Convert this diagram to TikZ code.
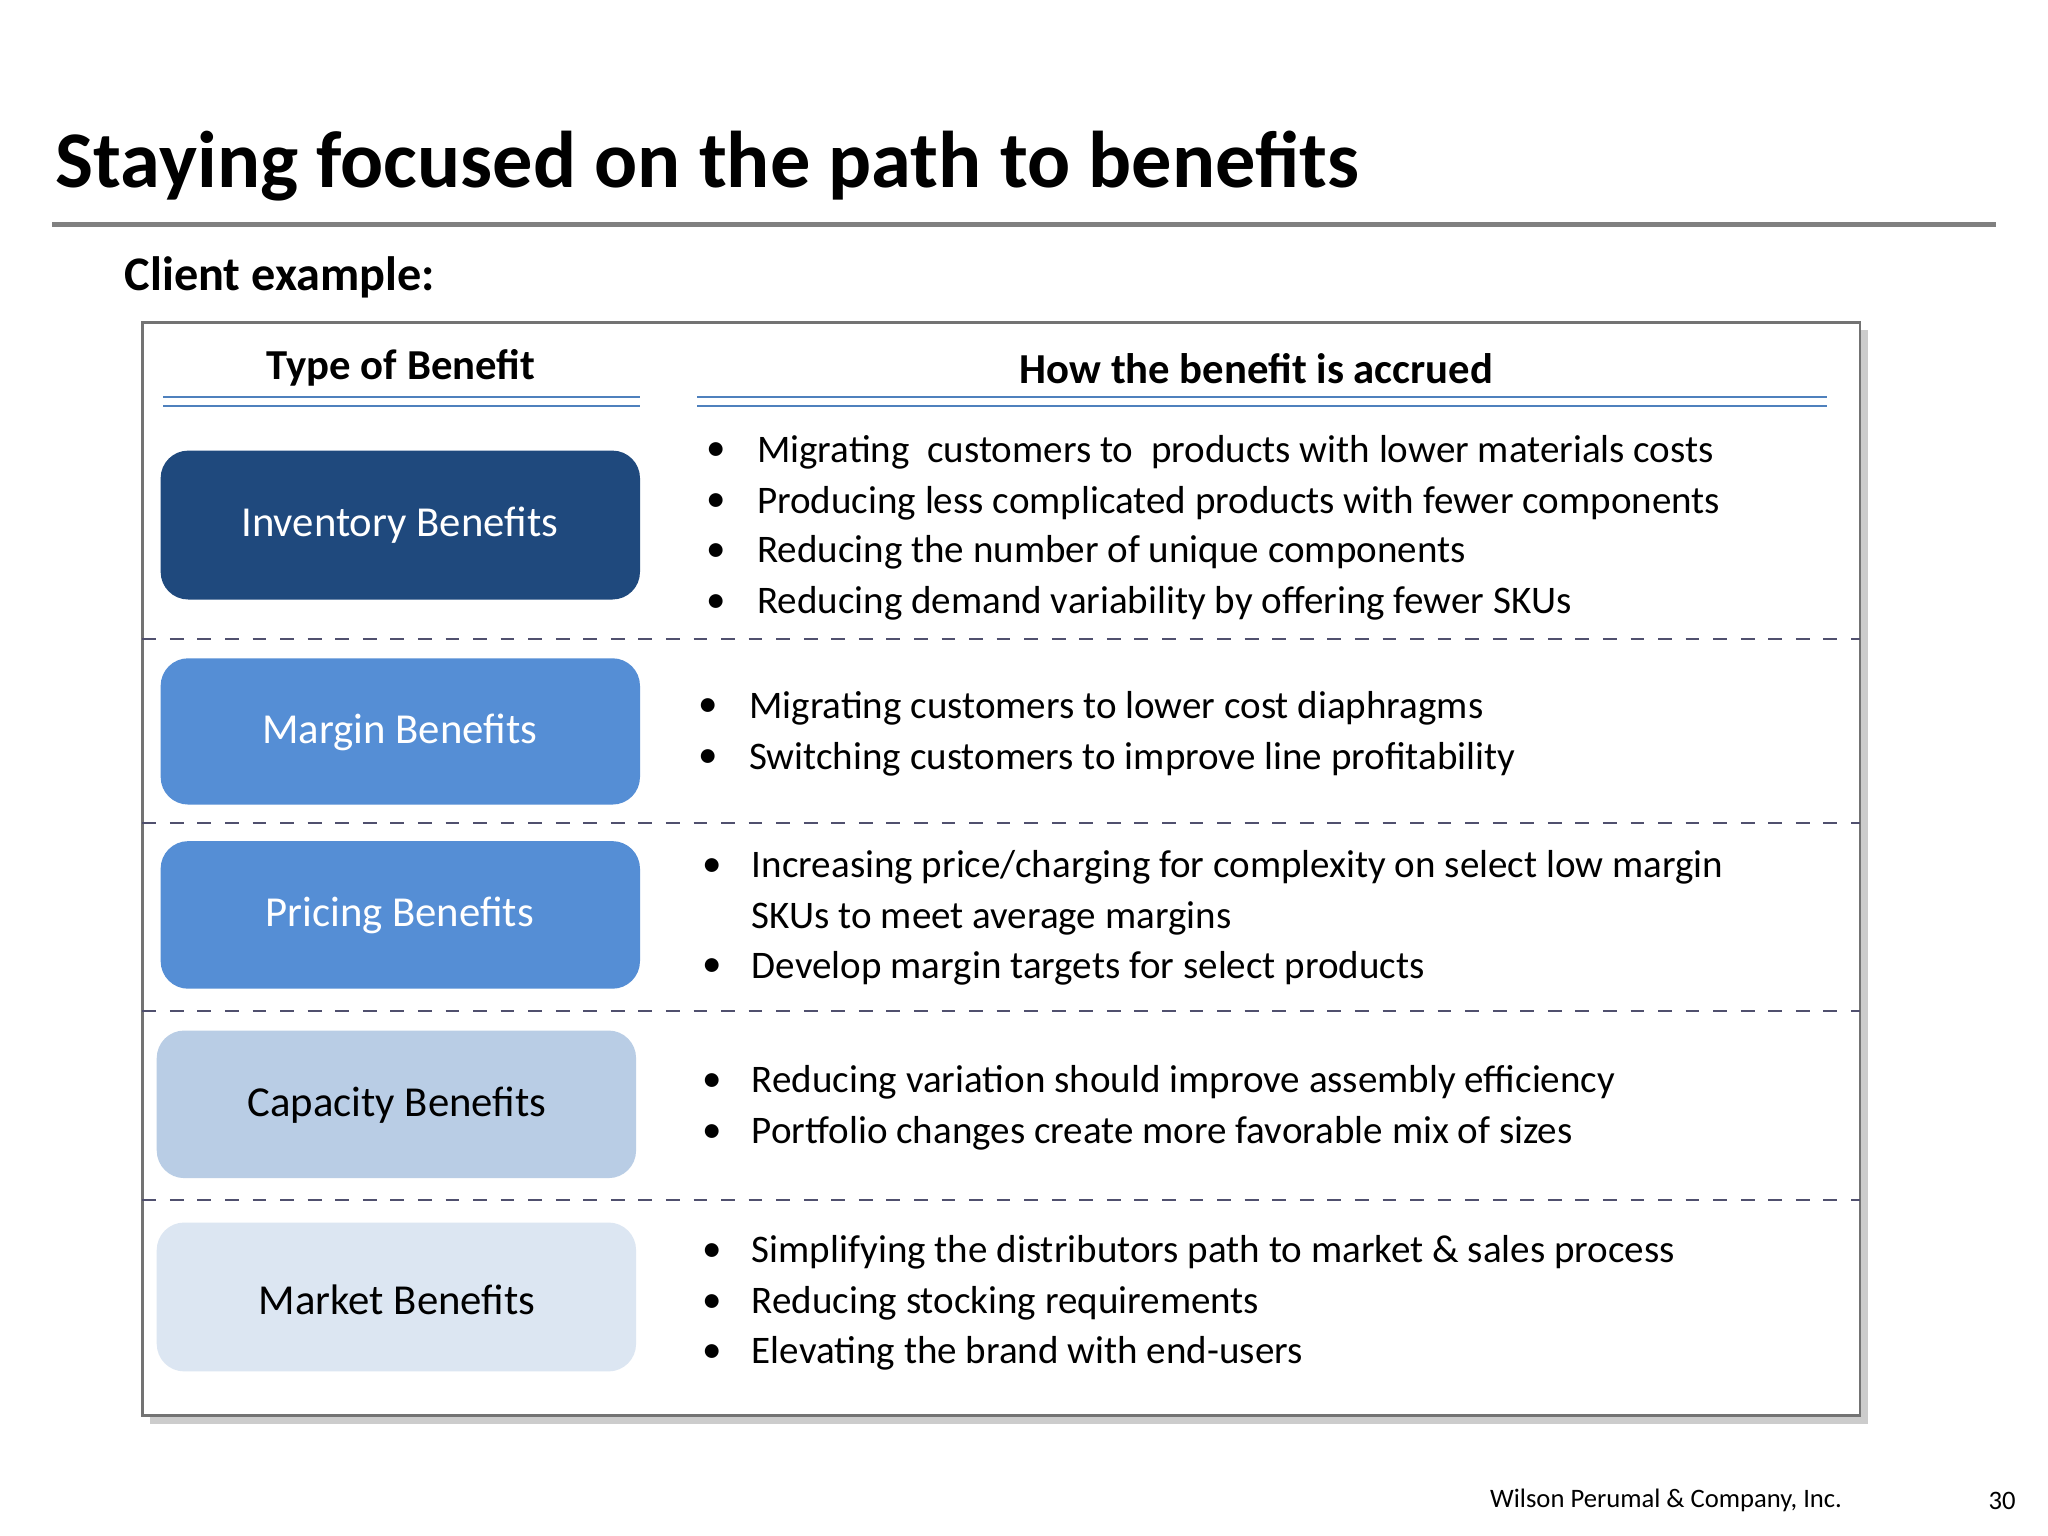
\documentclass[tikz,border=0pt]{standalone}
\usepackage{fontspec}
\setmainfont{Carlito}
\begin{document}
\begin{tikzpicture}[x=0.01cm,y=-0.01cm,
  bx/.style={rounded corners=6pt,inner sep=0pt},
  bl/.style={anchor=west,font=\fontsize{8.5pt}{10pt}\selectfont,inner sep=0pt},
  lab/.style={font=\fontsize{9.3pt}{11pt}\selectfont},
  dl/.style={dashed,draw=black!60,line width=0.5pt}]
\useasboundingbox (0,0) rectangle (1568,1176);
\fill[white] (0,0) rectangle (1568,1176);
\node[anchor=west,inner sep=0pt,font=\fontsize{17.5pt}{20pt}\selectfont\bfseries] (title) at (42,127) {Staying focused on the path to benefits};
\draw[line width=1.2pt,gray] (40,172) coordinate (l1) -- (1528,172) coordinate (l2);
\node[anchor=west,inner sep=0pt,font=\fontsize{10.5pt}{12pt}\selectfont\bfseries] (client) at (95,212) {Client example:};
\fill[black!20] (115,253) rectangle (1430,1090);
\draw[black!55,fill=white,line width=0.6pt] (109,247) rectangle (1424,1084);
\node[font=\fontsize{9.3pt}{11pt}\selectfont\bfseries] (h1) at (307,282) {Type of Benefit};
\node[font=\fontsize{9.3pt}{11pt}\selectfont\bfseries] (h2) at (962,282) {How the benefit is accrued};
\draw[blue!50!black!60!cyan,line width=0.5pt,draw={rgb,255:red,79;green,129;blue,189}] (125,304)--(490,304) (125,311)--(490,311) (534,304)--(1399,304) (534,311)--(1399,311);
\foreach \y in {489,630,774,919} \draw[dl,draw={rgb,255:red,80;green,80;blue,110}] (109,\y)--(1424,\y);
\definecolor{c1}{RGB}{31,73,125}\definecolor{c2}{RGB}{85,142,213}
\definecolor{c4}{RGB}{185,205,229}\definecolor{c5}{RGB}{220,230,242}
\fill[bx,c1] (123,345) rectangle (490,459);
\node[lab,white] (b1) at (306,402) {Inventory Benefits};
\fill[bx,c2] (123,504) rectangle (490,616);
\node[lab,white] (b2) at (306,561) {Margin Benefits};
\fill[bx,c2] (123,644) rectangle (490,757);
\node[lab,white] (b3) at (306,701) {Pricing Benefits};
\fill[bx,c4] (120,789) rectangle (487,902);
\node[lab] (b4) at (304,846) {Capacity Benefits};
\fill[bx,c5] (120,936) rectangle (487,1050);
\node[lab] (b5) at (304,995) {Market Benefits};
\foreach \y/\t in {346/{Migrating\ \ customers to\ \ products with lower materials costs},
 385/{Producing less complicated products with fewer\ components},
 423/{Reducing the number of unique components},
 462/{Reducing demand variability by offering\ fewer SKUs}}
 {\node[bl] at (540,\y) {•}; \node[bl] at (579,\y) {\t};}
\foreach \y/\t in {542/{Migrating customers\ to lower cost diaphragms},
 581/{Switching customers to improve line profitability}}
 {\node[bl] at (534,\y) {•}; \node[bl] at (573,\y) {\t};}
\foreach \y/\t in {664/{Increasing price/charging for complexity on select\ low margin},
 741/{Develop margin targets for select\ products},
 829/{Reducing variation should improve assembly\ efficiency},
 868/{Portfolio changes create more favorable mix of sizes},
 959/{Simplifying the distributors\ path to market\ \& sales process},
 998/{Reducing stocking requirements},
 1036/{Elevating the brand with end-users}}
 {\node[bl] at (537,\y) {•}; \node[bl] at (575,\y) {\t};}
\node[bl] at (575,703) {SKUs to meet average margins};
\node[anchor=east,inner sep=0pt,font=\fontsize{5.8pt}{7pt}\selectfont] (f1) at (1411,1149) {Wilson Perumal \& Company, Inc.};
\node[anchor=east,inner sep=0pt,font=\fontsize{5.8pt}{7pt}\selectfont] (f2) at (1544,1149) {30};
\end{tikzpicture}
\end{document}
